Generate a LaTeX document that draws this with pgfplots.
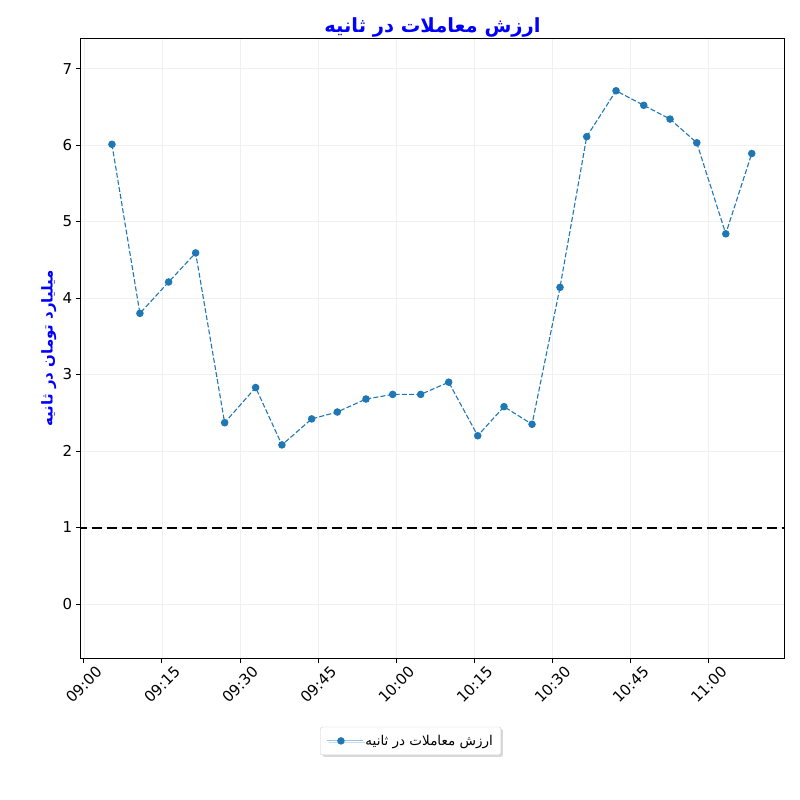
\documentclass[border=0pt]{standalone}
\usepackage{pgfplots}
\pgfplotsset{compat=1.18}
\usepackage{fontspec}
\setmainfont{DejaVu Sans}
\newfontfamily\arabicfont[Script=Arabic]{DejaVu Sans}
\TeXXeTstate=1
\usetikzlibrary{shadows}
\definecolor{c1}{HTML}{1F77B4}
\begin{document}
\begin{tikzpicture}
\path[use as bounding box] (-80.7pt,-142pt) rectangle (719.3pt,658pt);
\begin{axis}[
  at={(0pt,0pt)}, anchor=south west,
  scale only axis, width=703.6pt, height=620pt,
  xmin=-0.6, xmax=134.5, ymin=-0.706, ymax=7.40,
  xtick={0,15,30,45,60,75,90,105,120},
  xticklabels={09:00,09:15,09:30,09:45,10:00,10:15,10:30,10:45,11:00},
  ytick={0,1,2,3,4,5,6,7},
  tick pos=left, tick align=outside, major tick length=5pt,
  every tick/.style={black, line width=0.9pt},
  axis line style={black, line width=0.9pt},
  grid=major, major grid style={gray!12, line width=0.6pt},
  /pgf/number format/assume math mode=true,
  tick label style={font=\fontsize{15}{18}\selectfont},
  xticklabel style={yshift=-21.6pt, rotate=45, anchor=center},
  title={\arabicfont\bfseries\beginR ارزش معاملات در ثانیه\endR},
  every axis title/.style={at={(axis description cs:0.5,1)}, anchor=center, yshift=11pt, text=blue, font=\fontsize{19.5}{22}\selectfont},
  ylabel={\arabicfont\bfseries\beginR میلیارد تومان در ثانیه\endR},
  every axis y label/.style={at={(axis description cs:-0.0455,0.5)}, rotate=90, anchor=center, text=blue, font=\fontsize{15}{18}\selectfont},
  legend style={at={(axis description cs:0.469,-0.111)}, anchor=north, draw=gray!40, rounded corners=2pt, drop shadow={shadow xshift=2pt, shadow yshift=-2pt, fill=gray!60}, fill=white, font=\fontsize{13.5}{16}\selectfont, inner xsep=6pt, inner ysep=6pt},
  legend cell align=left,
  legend image code/.code={\draw[mark repeat=2, mark phase=2, #1] plot coordinates {(0pt,0pt) (14pt,0pt) (28pt,0pt)}; \path (28pt,0pt) -- (36pt,0pt);},
]
\addplot[black, line width=2pt, dash pattern=on 10pt off 5pt, forget plot] coordinates {(-10,1) (150,1)};
\addplot[c1, line width=1.1pt, dash pattern=on 5pt off 2.2pt, mark=*, mark size=3.2pt, mark options={solid, fill=c1, draw=c1}, forget plot] coordinates {
(5.40,6.01)(10.77,3.80)(16.29,4.21)(21.47,4.59)(27.04,2.37)(32.99,2.83)(38.04,2.08)(43.75,2.42)(48.67,2.51)(54.18,2.68)(59.30,2.74)(64.68,2.74)(70.06,2.90)(75.63,2.20)(80.68,2.58)(86.06,2.35)(91.43,4.14)(96.56,6.11)(102.19,6.71)(107.51,6.52)(112.56,6.34)(117.69,6.03)(123.26,4.84)(128.25,5.89)
};
\addlegendimage{color=c1!45, line width=1pt, mark=*, mark size=3.2pt, mark options={draw=c1, fill=c1}}
\addlegendentry{\arabicfont\beginR ارزش معاملات در ثانیه\endR}
\end{axis}
\end{tikzpicture}
\end{document}
